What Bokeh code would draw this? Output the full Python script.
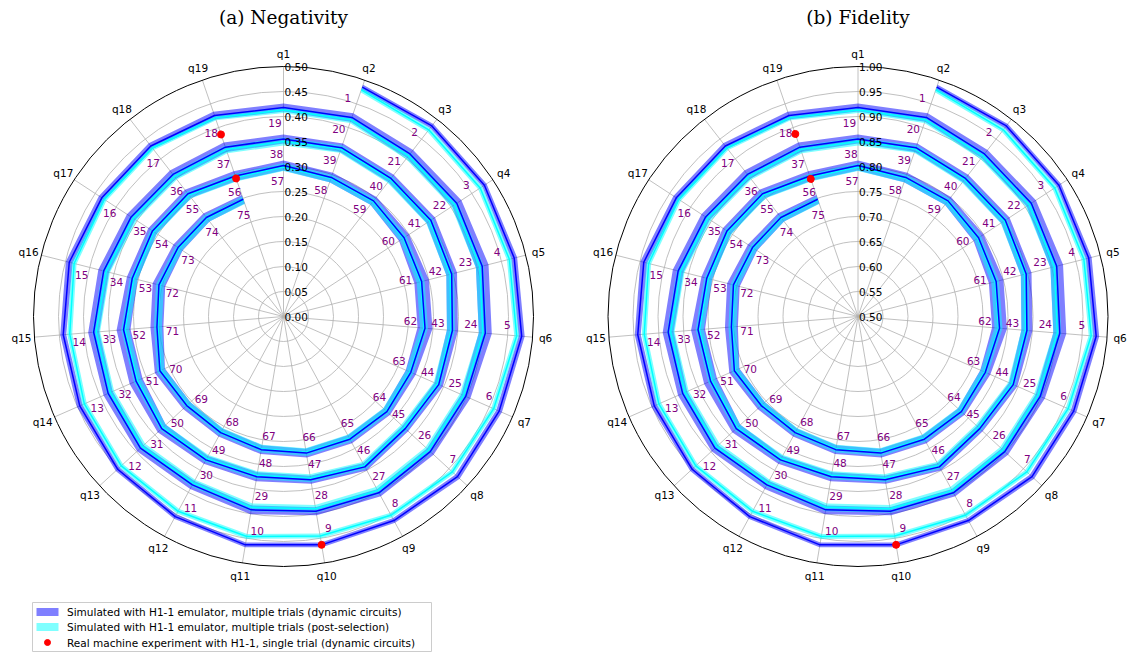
import numpy as np
from bokeh.plotting import figure
from bokeh.models import Range1d
from bokeh.core.properties import value
from bokeh.embed import file_html
from bokeh.resources import INLINE

# ---------------- data ----------------
qubits = ["q%d" % i for i in range(1, 20)]
steps = list(range(1, 76))

neg_dyn = [0.485, 0.483, 0.480, 0.476, 0.478, 0.471, 0.473, 0.464, 0.463, 0.463,
           0.455, 0.451, 0.445, 0.442, 0.442, 0.434, 0.432, 0.425, 0.418,
           0.421, 0.412, 0.414, 0.410, 0.405, 0.398, 0.399, 0.401, 0.395, 0.392,
           0.383, 0.389, 0.383, 0.381, 0.371, 0.364, 0.360, 0.358, 0.355,
           0.357, 0.350, 0.352, 0.347, 0.339, 0.339, 0.331, 0.342, 0.331, 0.325,
           0.326, 0.331, 0.322, 0.321, 0.312, 0.313, 0.311, 0.297, 0.302,
           0.294, 0.293, 0.288, 0.285, 0.284, 0.278, 0.281, 0.279, 0.277, 0.270,
           0.264, 0.263, 0.270, 0.254, 0.257, 0.252, 0.251, 0.248]
neg_dyn_err = [0.005, 0.005, 0.005, 0.006, 0.006, 0.006, 0.006, 0.005, 0.005, 0.005,
               0.005, 0.005, 0.006, 0.006, 0.007, 0.007, 0.007, 0.008, 0.008,
               0.009, 0.010, 0.011, 0.013, 0.013, 0.010, 0.009, 0.008, 0.008, 0.009,
               0.009, 0.009, 0.010, 0.011, 0.011, 0.010, 0.010, 0.010, 0.009,
               0.009, 0.009, 0.010, 0.011, 0.011, 0.009, 0.008, 0.008, 0.008, 0.009,
               0.009, 0.011, 0.014, 0.014, 0.011, 0.010, 0.010, 0.010, 0.010,
               0.010, 0.010, 0.012, 0.015, 0.015, 0.011, 0.009, 0.009, 0.009, 0.009,
               0.009, 0.010, 0.011, 0.013, 0.013, 0.011, 0.010, 0.009]
neg_ps = [0.479, 0.473, 0.470, 0.466, 0.468, 0.459, 0.459, 0.452, 0.445, 0.446,
          0.443, 0.441, 0.435, 0.429, 0.432, 0.428, 0.427, 0.420, 0.413,
          0.416, 0.407, 0.409, 0.405, 0.400, 0.393, 0.394, 0.396, 0.390, 0.387,
          0.379, 0.384, 0.378, 0.376, 0.366, 0.359, 0.355, 0.353, 0.350,
          0.354, 0.347, 0.349, 0.344, 0.336, 0.336, 0.328, 0.339, 0.328, 0.322,
          0.323, 0.328, 0.319, 0.318, 0.309, 0.310, 0.308, 0.294, 0.299,
          0.292, 0.291, 0.286, 0.283, 0.282, 0.276, 0.279, 0.277, 0.275, 0.268,
          0.262, 0.261, 0.268, 0.252, 0.255, 0.250, 0.249, 0.246]
neg_ps_err = [0.005, 0.005, 0.005, 0.005, 0.005, 0.005, 0.005, 0.005, 0.005, 0.005,
              0.005, 0.005, 0.005, 0.005, 0.005, 0.005, 0.005, 0.005, 0.006,
              0.007, 0.008, 0.008, 0.008, 0.008, 0.008, 0.008, 0.008, 0.008, 0.008,
              0.008, 0.008, 0.008, 0.008, 0.008, 0.008, 0.008, 0.008, 0.008,
              0.008, 0.008, 0.008, 0.008, 0.008, 0.008, 0.008, 0.008, 0.008, 0.008,
              0.008, 0.008, 0.008, 0.008, 0.008, 0.008, 0.008, 0.008, 0.008,
              0.008, 0.008, 0.008, 0.008, 0.008, 0.008, 0.008, 0.008, 0.008, 0.008,
              0.008, 0.008, 0.008, 0.008, 0.008, 0.008, 0.008, 0.008]

fid_dyn = [0.985, 0.983, 0.980, 0.976, 0.978, 0.971, 0.973, 0.964, 0.963, 0.963,
           0.955, 0.951, 0.945, 0.942, 0.942, 0.934, 0.932, 0.925, 0.918,
           0.921, 0.912, 0.914, 0.910, 0.905, 0.898, 0.899, 0.901, 0.895, 0.892,
           0.883, 0.889, 0.883, 0.881, 0.871, 0.864, 0.860, 0.858, 0.855,
           0.857, 0.850, 0.852, 0.847, 0.839, 0.839, 0.831, 0.842, 0.831, 0.825,
           0.826, 0.831, 0.822, 0.821, 0.812, 0.813, 0.811, 0.797, 0.802,
           0.794, 0.793, 0.788, 0.785, 0.784, 0.778, 0.781, 0.779, 0.777, 0.770,
           0.764, 0.763, 0.770, 0.754, 0.757, 0.752, 0.751, 0.748]
fid_dyn_err = [0.005, 0.005, 0.005, 0.006, 0.006, 0.006, 0.006, 0.005, 0.005, 0.005,
               0.005, 0.005, 0.006, 0.006, 0.007, 0.007, 0.007, 0.008, 0.008,
               0.009, 0.010, 0.011, 0.013, 0.013, 0.010, 0.009, 0.008, 0.008, 0.009,
               0.009, 0.009, 0.010, 0.011, 0.011, 0.010, 0.010, 0.010, 0.009,
               0.009, 0.009, 0.010, 0.011, 0.011, 0.009, 0.008, 0.008, 0.008, 0.009,
               0.009, 0.011, 0.014, 0.014, 0.011, 0.010, 0.010, 0.010, 0.010,
               0.010, 0.010, 0.012, 0.015, 0.015, 0.011, 0.009, 0.009, 0.009, 0.009,
               0.009, 0.010, 0.011, 0.013, 0.013, 0.011, 0.010, 0.009]
fid_ps = [0.979, 0.973, 0.970, 0.966, 0.968, 0.959, 0.959, 0.952, 0.945, 0.946,
          0.943, 0.941, 0.935, 0.929, 0.932, 0.928, 0.927, 0.920, 0.913,
          0.916, 0.907, 0.909, 0.905, 0.900, 0.893, 0.894, 0.896, 0.890, 0.887,
          0.879, 0.884, 0.878, 0.876, 0.866, 0.859, 0.855, 0.853, 0.850,
          0.854, 0.847, 0.849, 0.844, 0.836, 0.836, 0.828, 0.839, 0.828, 0.822,
          0.823, 0.828, 0.819, 0.818, 0.809, 0.810, 0.808, 0.794, 0.799,
          0.792, 0.791, 0.786, 0.783, 0.782, 0.776, 0.779, 0.777, 0.775, 0.768,
          0.762, 0.761, 0.768, 0.752, 0.755, 0.750, 0.749, 0.746]
fid_ps_err = neg_ps_err

real_steps = [9, 18, 56]
neg_real = [0.463, 0.385, 0.292]
neg_real_err = [0.003, 0.008, 0.008]
fid_real = [0.963, 0.886, 0.791]
fid_real_err = [0.003, 0.008, 0.008]

neg_ticks = ["0.00", "0.05", "0.10", "0.15", "0.20", "0.25", "0.30", "0.35", "0.40", "0.45", "0.50"]
fid_ticks = ["0.50", "0.55", "0.60", "0.65", "0.70", "0.75", "0.80", "0.85", "0.90", "0.95", "1.00"]

titles = ["(a) Negativity", "(b) Fidelity"]
legend_labels = ["Simulated with H1-1 emulator, multiple trials (dynamic circuits)",
                 "Simulated with H1-1 emulator, multiple trials (post-selection)",
                 "Real machine experiment with H1-1, single trial (dynamic circuits)"]

# ---------------- layout ----------------
W, H = 1128, 652
R = 250.0
NQ = len(qubits)
FONT = value("DejaVu Sans")


def fy(py):
    return H - py


p = figure(width=W, height=H, x_range=Range1d(0, W), y_range=Range1d(0, H),
           output_backend="svg", toolbar_location=None, min_border=0,
           x_axis_type=None, y_axis_type=None)
p.outline_line_color = None
p.background_fill_color = "white"


def panel(cx, cy, rmin, rmax, dyn, dyn_err, ps, ps_err, real, real_err, ticks, title):
    def xy(vals, idx, dth=0.0):
        vals = np.asarray(vals, float)
        r = (vals - rmin) / (rmax - rmin) * R
        th = np.asarray(idx, float) * 2 * np.pi / NQ + dth
        return cx + r * np.sin(th), cy + r * np.cos(th)

    # grid
    tick_vals = [float(t) for t in ticks]
    for tv in tick_vals[1:-1]:
        rr = (tv - rmin) / (rmax - rmin) * R
        p.circle(x=[cx], y=[cy], radius=rr, fill_color=None,
                 line_color="#b0b0b0", line_width=0.8)
    gx, gy = [], []
    for i in range(NQ):
        th = i * 2 * np.pi / NQ
        gx.append([cx, cx + R * np.sin(th)])
        gy.append([cy, cy + R * np.cos(th)])
    p.multi_line(gx, gy, line_color="#b0b0b0", line_width=0.8)
    p.circle(x=[cx], y=[cy], radius=R, fill_color=None, line_color="black", line_width=1)

    idx = [s % NQ for s in steps]
    dyn = np.asarray(dyn); dyn_err = np.asarray(dyn_err)
    ps = np.asarray(ps); ps_err = np.asarray(ps_err)

    # bands
    ux, uy = xy(dyn + dyn_err, idx)
    lx, ly = xy(dyn - dyn_err, idx)
    p.patch(np.r_[ux, lx[::-1]], np.r_[uy, ly[::-1]], fill_color="blue",
            fill_alpha=0.5, line_color=None)
    ux, uy = xy(ps + ps_err, idx)
    lx, ly = xy(ps - ps_err, idx)
    p.patch(np.r_[ux, lx[::-1]], np.r_[uy, ly[::-1]], fill_color="cyan",
            fill_alpha=0.5, line_color=None)
    # lines
    x, y = xy(ps, idx)
    p.line(x, y, line_color="cyan", line_width=1.5)
    x, y = xy(dyn, idx)
    p.line(x, y, line_color="blue", line_width=1.5)

    # step labels
    off = 0.03 * (rmax - rmin) / 0.5
    lx, ly = xy(dyn - off, idx, dth=-np.radians(2.5))
    p.text(lx, ly, text=[str(s) for s in steps], text_color="purple",
           text_font=FONT, text_font_size="10.5px", text_align="center",
           text_baseline="middle")

    # real machine points
    ridx = [s % NQ for s in real_steps]
    rx, ry = xy(real, ridx)
    ex0, ey0 = xy(np.asarray(real) - np.asarray(real_err), ridx)
    ex1, ey1 = xy(np.asarray(real) + np.asarray(real_err), ridx)
    p.segment(ex0, ey0, ex1, ey1, line_color="red", line_width=1.5)
    p.scatter(rx, ry, size=7, color="red")

    # radial tick labels
    ty = [cy + (tv - rmin) / (rmax - rmin) * R for tv in tick_vals]
    p.text([cx + 1] * len(ticks), ty, text=ticks, text_font=FONT,
           text_font_size="10.5px", text_align="left", text_baseline="alphabetic",
           text_color="black")

    # qubit labels
    qx = [cx + 263 * np.sin(i * 2 * np.pi / NQ) for i in range(NQ)]
    qy = [cy + 263 * np.cos(i * 2 * np.pi / NQ) for i in range(NQ)]
    p.text(qx, qy, text=qubits, text_font=FONT, text_font_size="10.5px",
           text_align="center", text_baseline="middle", text_color="black")

    # title
    p.text([cx], [fy(17)], text=[title], text_font=value("DejaVu Serif"),
           text_font_size="18.5px", text_align="center", text_baseline="middle",
           text_color="black")


panel(283.0, fy(316), 0.0, 0.5, neg_dyn, neg_dyn_err, neg_ps, neg_ps_err,
      neg_real, neg_real_err, neg_ticks, titles[0])
panel(857.5, fy(316), 0.5, 1.0, fid_dyn, fid_dyn_err, fid_ps, fid_ps_err,
      fid_real, fid_real_err, fid_ticks, titles[1])

# ---------------- legend ----------------
p.quad(left=[32], right=[431], top=[fy(602)], bottom=[fy(651)],
       fill_color="white", fill_alpha=0.8, line_color="#cccccc", line_width=1)
rows = [611.5, 626.5, 642]
p.quad(left=[36], right=[58], top=[fy(rows[0] - 4)], bottom=[fy(rows[0] + 4)],
       fill_color="blue", fill_alpha=0.5, line_color=None)
p.quad(left=[36], right=[58], top=[fy(rows[1] - 4)], bottom=[fy(rows[1] + 4)],
       fill_color="cyan", fill_alpha=0.5, line_color=None)
p.scatter([47], [fy(rows[2])], size=6, color="red")
p.text([66.5] * 3, [fy(r) for r in rows], text=legend_labels, text_font=FONT,
       text_font_size="10.5px", text_align="left", text_baseline="middle",
       text_color="black")

open("out.html", "w").write(file_html(p, INLINE))
